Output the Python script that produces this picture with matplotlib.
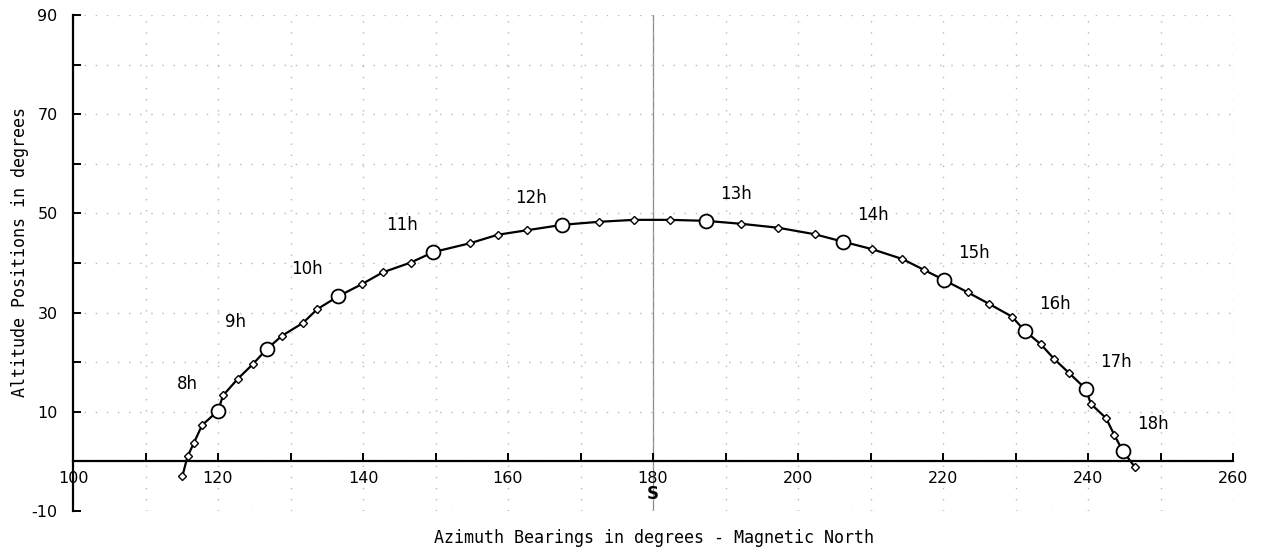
import matplotlib
matplotlib.use("Agg")
import matplotlib.pyplot as plt

plt.rcParams["axes.unicode_minus"] = False

# sun path, one point every 15 minutes from 7h00 to 18h15
azimuth = [115.1, 115.8, 116.7, 117.8, 120.0, 120.7, 122.7, 124.8,
           126.7, 128.8, 131.7, 133.7, 136.6, 139.8, 142.7, 146.6,
           149.7, 154.8, 158.6, 162.6, 167.5, 172.5, 177.4, 182.3,
           187.3, 192.2, 197.3, 202.3, 206.2, 210.2, 214.4, 217.4,
           220.1, 223.4, 226.3, 229.5, 231.3, 233.5, 235.3, 237.4,
           239.7, 240.4, 242.5, 243.6, 244.8, 246.5]
altitude = [-2.9, 1.0, 3.8, 7.3, 10.2, 13.3, 16.6, 19.6,
            22.6, 25.3, 27.9, 30.7, 33.3, 35.7, 38.1, 40.1,
            42.2, 44.0, 45.7, 46.6, 47.7, 48.3, 48.7, 48.7,
            48.5, 47.9, 47.1, 45.8, 44.3, 42.8, 40.8, 38.6,
            36.6, 34.1, 31.8, 29.2, 26.3, 23.6, 20.7, 17.8,
            14.6, 11.6, 8.7, 5.4, 2.1, -1.2]
hour_labels = ["8h", "9h", "10h", "11h", "12h", "13h", "14h",
               "15h", "16h", "17h", "18h"]

fig = plt.figure(figsize=(12.61, 5.5), dpi=100)
ax = fig.add_axes([73/1261, 1-511/550, 1160/1261, 496/550])
ax.set_xlim(100, 260)
ax.set_ylim(-10, 90)

ax.spines["top"].set_visible(False)
ax.spines["right"].set_visible(False)
ax.spines["bottom"].set_position(("data", 0))
ax.spines["bottom"].set_linewidth(1.6)
ax.spines["left"].set_linewidth(1.6)

ax.set_xticks(range(100, 261, 20))
ax.set_xticks(range(110, 260, 20), minor=True)
ax.set_yticks(range(-10, 91, 20))
ax.set_yticks(range(0, 91, 20), minor=True)
ax.tick_params(which="both", direction="in", length=6, width=1.4, color="k")
ax.tick_params(axis="x", pad=7, labelsize=11.5)
ax.tick_params(axis="y", pad=11, labelsize=11.5)

ax.grid(which="both", color="#b8b8b8", linestyle=(0, (1, 7)), linewidth=1)
ax.axvline(180, color="#8a8a8a", linewidth=0.9, zorder=1)

ax.plot(azimuth, altitude, color="k", linewidth=1.6, marker="D",
        markersize=4, markerfacecolor="white", markeredgecolor="k",
        markeredgewidth=1, zorder=3)
ax.plot(azimuth[4::4], altitude[4::4], linestyle="none", marker="o",
        markersize=10, markerfacecolor="white", markeredgecolor="k",
        markeredgewidth=1.3, zorder=4)

# hour labels: left of the curve before noon, right after
for i, lab in enumerate(hour_labels):
    dx = -31 if i <= 4 else 30
    ax.annotate(lab, (azimuth[4 + 4*i], altitude[4 + 4*i]),
                xytext=(dx, 27), textcoords="offset pixels",
                ha="center", va="center", fontsize=12)

ax.annotate("S", (180, 0), xytext=(0, -33), textcoords="offset pixels",
            ha="center", va="center", fontsize=12, fontweight="bold")

fig.text(654/1261, 1-538/550, "Azimuth Bearings in degrees - Magnetic North",
         ha="center", va="center", family="DejaVu Sans Mono", fontsize=12)
fig.text(20/1261, 1-252/550, "Altitude Positions in degrees", rotation=90,
         ha="center", va="center", family="DejaVu Sans Mono", fontsize=12)

fig.savefig("out.png", dpi=100, facecolor="white")
